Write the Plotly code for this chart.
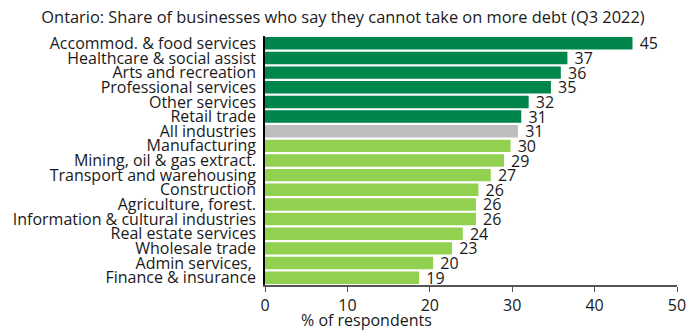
import plotly.graph_objects as go

categories = ["Accommod. & food services", "Healthcare & social assist", "Arts and recreation",
              "Professional services", "Other services", "Retail trade", "All industries",
              "Manufacturing", "Mining, oil & gas extract.", "Transport and warehousing",
              "Construction", "Agriculture, forest.", "Information & cultural industries",
              "Real estate services", "Wholesale trade", "Admin services, ", "Finance & insurance"]
values = [44.6, 36.7, 35.9, 34.7, 32.0, 31.1, 30.7, 29.8, 29.0, 27.4, 25.9, 25.6, 25.6,
          24.0, 22.7, 20.4, 18.7]
groups = ["dark"] * 6 + ["all"] + ["light"] * 10
x_ticks = [0, 10, 20, 30, 40, 50]

palette = {"dark": "#00854A", "all": "#BEBEBE", "light": "#92D050"}
colors = [palette[g] for g in groups]

FONT = "Open Sans"
TXT = "#1a1a1a"
FS = 16

fig = go.Figure(go.Bar(
    x=values, y=categories, orientation="h",
    marker=dict(color=colors, line=dict(width=0)),
    text=[f"\u00a0{round(v + 1e-9):.0f}" for v in values],
    textposition="outside", cliponaxis=False, constraintext="none",
    textfont=dict(family=FONT, size=FS, color=TXT),
))

fig.update_layout(
    width=686, height=330,
    margin=dict(l=265, r=9, t=36, b=45),
    paper_bgcolor="white", plot_bgcolor="white",
    bargap=0.15,
    showlegend=False,
    title=dict(text="Ontario: Share of businesses who say they cannot take on more debt (Q3 2022)",
               x=0.5, xanchor="center", y=0.965, yanchor="top",
               font=dict(family=FONT, size=16.4, color=TXT)),
    font=dict(family=FONT, size=FS, color=TXT),
)
fig.update_xaxes(range=[0, 50], tickvals=x_ticks, showgrid=False, zeroline=False,
                 showline=True, linecolor="#555555", linewidth=1.5,
                 ticks="outside", ticklen=5, tickcolor="#555555",
                 ticklabeloverflow="allow", automargin=False,
                 tickfont=dict(family=FONT, size=FS, color=TXT))
fig.update_yaxes(autorange="reversed", showgrid=False, showline=True, linecolor="black",
                 linewidth=1.5, ticks="", ticklabelstandoff=4, automargin=False,
                 tickmode="array", tickvals=categories, ticktext=categories,
                 tickfont=dict(family=FONT, size=FS, color=TXT))
fig.add_annotation(text="% of respondents", xref="paper", yref="paper", x=0.083, y=-0.14,
                   xanchor="left", yanchor="middle", showarrow=False,
                   font=dict(family=FONT, size=FS, color=TXT))

fig.write_html("out.html")
